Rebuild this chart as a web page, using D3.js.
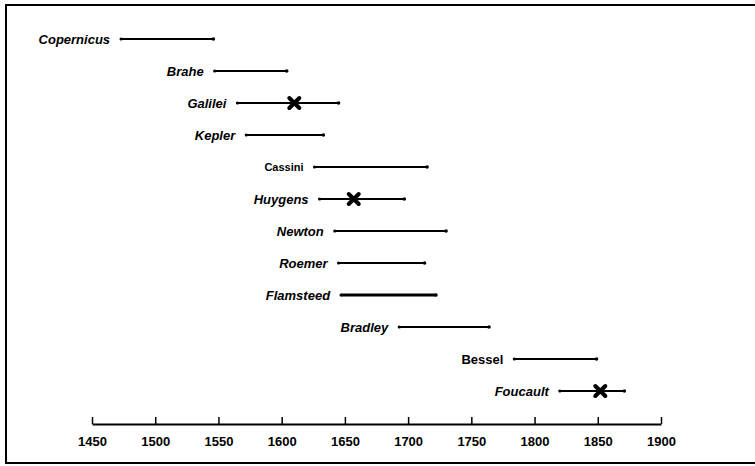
<!DOCTYPE html>
<html>
<head>
<meta charset="utf-8">
<script src="https://cdn.jsdelivr.net/npm/d3@7"></script>
<style>
  html, body { margin: 0; padding: 0; background: #fff; }
  svg { display: block; }
</style>
</head>
<body>
<svg id="chart" width="755" height="466"></svg>
<script>
// ---- data ----
const names  = ["Copernicus", "Brahe", "Galilei", "Kepler", "Cassini", "Huygens",
                "Newton", "Roemer", "Flamsteed", "Bradley", "Bessel", "Foucault"];
const starts = [1473, 1547, 1565, 1572, 1626, 1630, 1642, 1645, 1647, 1693, 1784, 1820];
const ends   = [1546, 1604, 1645, 1633, 1715, 1697, 1730, 1713, 1722, 1764, 1849, 1871];
const italic = [true, true, true, true, false, true, true, true, true, true, false, true];
const marks  = [null, null, 1610, null, null, 1657, null, null, null, null, null, 1852];
const tickYears = [1450, 1500, 1550, 1600, 1650, 1700, 1750, 1800, 1850, 1900];

const rows = names.map((n, i) => ({name: n, start: starts[i], end: ends[i],
  italic: italic[i], mark: marks[i], thick: n === "Flamsteed"}));

const svg = d3.select("#chart");

// frame
svg.append("rect").attr("x", 6).attr("y", 5).attr("width", 800).attr("height", 458)
  .attr("fill", "none").attr("stroke", "#000").attr("stroke-width", 2);

const x = d3.scaleLinear().domain([1450, 1900]).range([92, 661]);
const y = d3.scalePoint().domain(names).range([39, 391]);

const g = svg.append("g");

const row = g.selectAll("g.row").data(rows).join("g").attr("class", "row");

row.append("line")
  .attr("x1", d => x(d.start)).attr("x2", d => x(d.end))
  .attr("y1", d => y(d.name)).attr("y2", d => y(d.name))
  .attr("stroke", "#000").attr("stroke-width", d => d.thick ? 3 : 2);

row.append("circle").attr("cx", d => x(d.start)).attr("cy", d => y(d.name)).attr("r", 1.6).attr("fill", "#000");
row.append("circle").attr("cx", d => x(d.end)).attr("cy", d => y(d.name)).attr("r", 1.8).attr("fill", "#000");

row.append("text")
  .attr("x", d => x(d.start) - 11)
  .attr("y", d => y(d.name))
  .attr("dy", "0.35em")
  .attr("text-anchor", "end")
  .attr("font-family", "Liberation Sans, Arial, sans-serif")
  .attr("font-weight", "bold")
  .attr("font-style", d => d.italic ? "italic" : "normal")
  .attr("font-size", d => d.name === "Cassini" ? 11 : 13)
  .text(d => d.name);

// X markers
const xs = rows.filter(d => d.mark !== null);
const mk = g.selectAll("g.mk").data(xs).join("g").attr("class", "mk")
  .attr("transform", d => `translate(${x(d.mark)},${y(d.name)})`);
mk.append("path").attr("d", "M-5,-5L5,5M-5,5L5,-5")
  .attr("stroke", "#000").attr("stroke-width", 4).attr("stroke-linecap", "round");

// axis
const axis = d3.axisBottom(x).tickValues(tickYears).tickFormat(d3.format("d"))
  .tickSize(-7).tickSizeOuter(0).tickPadding(13);
const ax = svg.append("g").attr("transform", "translate(0,424)").call(axis);
ax.select(".domain").attr("stroke-width", 2);
ax.selectAll(".tick line").attr("stroke-width", 1.5);
ax.selectAll(".tick text")
  .attr("font-family", "Liberation Sans, Arial, sans-serif")
  .attr("font-weight", "bold").attr("font-size", 13).attr("fill", "#000");
</script>
</body>
</html>
